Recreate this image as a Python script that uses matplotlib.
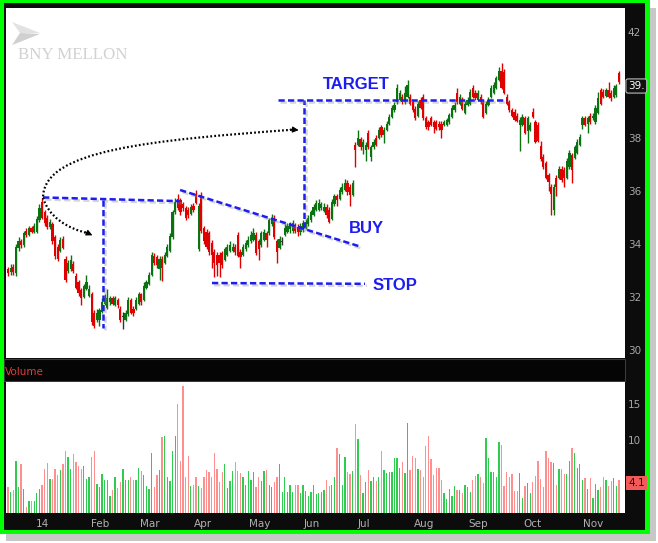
import numpy as np
import matplotlib
matplotlib.use("Agg")
import matplotlib.pyplot as plt
import matplotlib.patheffects as pe
from matplotlib.patches import Rectangle, Polygon, PathPatch
from matplotlib.path import Path

# Daily candles, Dec 2013 - Nov 2014
open_ = [33.05, 32.95, 33.15, 32.90, 33.85, 34.10, 33.95, 34.50, 34.35, 34.60,
         34.45, 34.45, 34.90, 35.60, 35.20, 35.00, 34.65, 34.75, 34.25, 33.90,
         33.75, 34.20, 33.45, 33.00, 33.05, 33.25, 32.80, 32.55, 32.25, 32.00,
         32.30, 32.05, 32.10, 31.40, 31.15, 31.15, 31.45, 31.75, 31.60, 31.80,
         31.95, 31.70, 31.90, 31.55, 31.25, 31.15, 31.35, 31.90, 31.55, 31.55,
         31.75, 32.10, 31.90, 32.35, 32.50, 32.85, 33.55, 33.50, 33.05, 33.45,
         33.30, 33.55, 33.75, 34.25, 35.20, 35.70, 35.65, 35.50, 35.35, 35.30,
         35.15, 35.45, 35.90, 33.80, 35.85, 34.60, 34.45, 34.40, 34.05, 33.70,
         33.60, 33.60, 33.65, 33.40, 33.60, 33.75, 33.75, 33.90, 34.35, 33.70,
         33.60, 33.80, 33.95, 34.10, 34.15, 34.35, 34.10, 33.95, 34.15, 34.40,
         34.40, 34.75, 35.00, 34.10, 33.85, 34.08, 34.35, 34.45, 34.55, 34.50,
         34.70, 34.65, 34.45, 34.55, 34.65, 34.75, 34.90, 35.10, 35.30, 35.30,
         35.35, 35.25, 35.40, 35.30, 34.95, 35.50, 35.80, 35.70, 35.95, 36.05,
         36.30, 36.15, 35.85,
         37.75, 37.75, 37.95, 37.65, 37.55, 38.20, 37.30, 37.65, 38.00, 38.00,
         38.40, 38.10, 38.30, 38.55, 38.80, 39.05, 39.35, 39.45, 39.55, 39.35,
         39.55, 39.55, 39.35, 39.10, 38.85, 39.45, 39.55, 38.75, 38.60, 38.75,
         38.60, 38.60, 38.55, 38.55, 38.50, 38.50, 38.60, 38.80, 39.05, 39.70,
         39.30, 39.45, 38.95, 39.25, 39.30, 39.90, 39.70, 39.45, 39.55, 39.35,
         38.95, 39.25, 39.55, 39.70, 39.90, 40.20, 40.55, 40.50, 39.55, 39.35,
         39.05, 39.00, 38.85, 38.50, 38.50, 38.75, 38.25, 38.30, 39.00, 38.60,
         38.50, 37.70, 37.30, 37.05, 36.60, 36.15, 35.30, 36.50, 36.50, 36.85,
         36.80, 36.50, 36.90, 37.35, 37.25, 37.45, 37.75, 38.50, 38.75, 38.55,
         38.85, 38.75, 38.60, 38.95, 39.80, 39.75, 39.60, 39.80, 39.70, 39.55,
         39.62, 40.45]
close = [32.90, 33.10, 32.95, 33.90, 34.10, 33.95, 34.40, 34.35, 34.60, 34.45,
         34.70, 34.95, 35.35, 35.00, 34.80, 34.65, 34.85, 34.10, 33.55, 33.45,
         34.15, 33.85, 32.65, 33.30, 33.40, 33.00, 32.35, 32.15, 31.95, 32.40,
         32.55, 32.30, 31.05, 30.90, 31.40, 31.50, 31.80, 31.95, 31.95, 31.95,
         31.75, 31.95, 31.70, 31.15, 31.25, 31.40, 31.90, 31.40, 31.40, 31.90,
         32.10, 31.80, 32.40, 32.55, 32.85, 33.60, 33.30, 33.20, 33.45, 33.10,
         33.60, 33.90, 34.30, 35.20, 35.60, 35.35, 35.20, 35.35, 35.00, 35.10,
         35.40, 35.30, 35.55, 35.45, 34.50, 34.10, 33.90, 33.70, 33.60, 33.30,
         33.20, 33.30, 33.20, 33.80, 33.90, 33.95, 33.90, 33.70, 33.55, 33.50,
         33.90, 34.05, 34.15, 34.35, 34.40, 33.65, 33.80, 34.40, 34.45, 34.15,
         34.90, 35.00, 34.25, 33.70, 34.20, 34.08, 34.60, 34.70, 34.72, 34.80,
         34.50, 34.45, 34.70, 34.80, 34.85, 35.00, 35.20, 35.40, 35.55, 35.55,
         35.50, 35.40, 35.10, 34.85, 35.60, 35.80, 35.65, 36.05, 36.15, 36.30,
         35.95, 35.85, 36.30,
         37.55, 38.00, 37.65, 37.85, 37.75, 37.65, 37.65, 37.85, 37.75, 38.30,
         38.10, 38.30, 38.55, 38.80, 39.15, 39.25, 39.90, 39.70, 39.35, 39.70,
         40.00, 39.30, 39.05, 38.75, 39.30, 39.15, 38.75, 38.40, 38.40, 38.50,
         38.40, 38.35, 38.40, 38.30, 38.60, 38.68, 38.87, 39.15, 39.25, 39.35,
         39.55, 39.10, 39.30, 39.45, 39.75, 39.55, 39.50, 39.70, 39.35, 38.80,
         39.30, 39.45, 39.90, 40.00, 40.25, 40.55, 39.90, 39.70, 39.30, 39.05,
         38.85, 38.70, 38.65, 38.68, 38.80, 38.20, 38.75, 38.50, 38.80, 37.85,
         37.90, 37.20, 36.90, 36.50, 36.35, 35.90, 36.15, 36.15, 36.85, 36.40,
         36.50, 37.15, 37.45, 36.80, 37.65, 37.85, 38.05, 38.75, 38.50, 38.75,
         38.60, 38.85, 39.15, 39.50, 39.30, 39.55, 39.80, 39.55, 39.50, 39.90,
         39.95, 40.10]
high = [33.15, 33.25, 33.25, 34.00, 34.25, 34.20, 34.50, 34.60, 34.70, 34.70,
        34.80, 35.05, 35.50, 35.75, 35.30, 35.10, 34.95, 34.85, 34.35, 34.00,
        34.25, 34.30, 33.55, 33.40, 33.60, 33.35, 32.90, 32.65, 32.35, 32.50,
        32.85, 32.45, 32.20, 31.50, 31.55, 31.60, 31.95, 32.10, 32.30, 32.05,
        32.05, 32.05, 31.95, 31.65, 31.45, 31.50, 32.00, 31.95, 31.65, 32.00,
        32.20, 32.15, 32.55, 32.65, 32.95, 33.70, 33.65, 33.60, 33.55, 33.55,
        33.70, 34.00, 34.40, 35.30, 35.75, 35.90, 35.75, 35.60, 35.45, 35.40,
        35.50, 35.55, 36.05, 35.55, 35.95, 34.70, 34.55, 34.50, 34.15, 33.80,
        33.70, 33.70, 33.75, 33.90, 34.00, 34.10, 34.05, 34.00, 34.45, 33.80,
        34.00, 34.15, 34.30, 34.50, 34.60, 34.45, 34.20, 34.50, 34.55, 34.50,
        35.00, 35.15, 35.10, 34.20, 34.30, 34.25, 34.75, 34.80, 34.85, 34.90,
        34.80, 34.75, 34.80, 34.90, 34.95, 35.10, 35.30, 35.50, 35.65, 35.70,
        35.60, 35.55, 35.50, 35.40, 35.70, 35.90, 35.90, 36.15, 36.30, 36.45,
        36.40, 36.25, 36.40,
        37.85, 38.30, 38.05, 37.95, 37.85, 38.30, 37.75, 37.95, 38.10, 38.40,
        38.50, 38.40, 38.65, 38.90, 39.25, 39.35, 40.05, 39.80, 39.65, 39.95,
        40.20, 39.65, 39.45, 39.20, 39.40, 39.55, 39.65, 38.85, 38.70, 38.85,
        38.70, 38.70, 38.65, 38.65, 38.70, 38.75, 38.95, 39.25, 39.35, 39.90,
        39.65, 39.55, 39.40, 39.55, 39.85, 40.00, 39.80, 39.80, 39.65, 39.45,
        39.40, 39.55, 40.00, 40.10, 40.35, 40.70, 40.85, 40.60, 39.65, 39.45,
        39.15, 39.10, 38.95, 38.80, 38.90, 38.85, 38.85, 38.60, 39.15, 38.70,
        38.60, 37.90, 37.40, 37.15, 36.70, 36.25, 36.25, 36.60, 36.95, 36.95,
        36.90, 37.25, 37.55, 37.45, 37.75, 37.95, 38.15, 38.85, 38.85, 38.85,
        38.95, 38.95, 39.25, 39.75, 39.90, 39.85, 39.90, 40.10, 39.80, 40.00,
        40.05, 40.55]
low = [32.80, 32.85, 32.85, 32.80, 33.75, 33.85, 33.90, 34.25, 34.30, 34.40,
       34.40, 34.40, 34.85, 34.95, 34.70, 34.55, 34.55, 34.00, 33.45, 33.35,
       33.70, 33.80, 32.55, 32.90, 33.00, 32.90, 32.30, 32.05, 31.70, 31.95,
       32.25, 32.00, 30.95, 30.85, 31.05, 30.90, 31.40, 31.70, 31.55, 31.70,
       31.70, 31.65, 31.60, 31.05, 30.80, 31.10, 31.30, 31.35, 31.30, 31.50,
       31.70, 31.70, 31.85, 32.30, 32.45, 32.80, 33.20, 33.10, 32.65, 32.60,
       33.25, 33.50, 33.70, 34.20, 35.15, 35.30, 35.10, 35.25, 34.90, 35.00,
       35.10, 35.20, 35.50, 33.75, 34.40, 34.00, 33.80, 33.60, 33.10, 32.75,
       32.80, 32.75, 33.10, 33.35, 33.55, 33.70, 33.70, 33.60, 33.50, 33.10,
       33.55, 33.75, 33.90, 34.05, 34.10, 33.60, 33.40, 33.90, 34.10, 33.90,
       34.35, 34.70, 34.20, 33.30, 33.80, 33.95, 34.30, 34.40, 34.40, 34.40,
       34.40, 34.30, 34.35, 34.45, 34.55, 34.70, 34.85, 35.05, 35.25, 35.25,
       35.30, 35.20, 35.00, 34.80, 34.90, 35.45, 35.45, 35.65, 35.90, 36.00,
       35.85, 35.45, 35.80,
       36.90, 37.70, 37.55, 37.40, 37.15, 37.60, 37.15, 37.60, 37.70, 37.95,
       38.05, 37.80, 38.25, 38.50, 38.75, 39.00, 39.30, 39.40, 39.30, 39.30,
       39.50, 39.25, 39.00, 38.70, 38.80, 39.10, 38.70, 38.35, 38.30, 38.45,
       38.20, 38.30, 38.30, 38.00, 38.45, 38.45, 38.55, 38.75, 39.00, 39.30,
       39.25, 39.05, 38.90, 39.20, 39.25, 39.50, 39.45, 39.40, 39.30, 38.75,
       38.90, 39.20, 39.50, 39.65, 39.85, 40.15, 39.85, 39.65, 39.25, 39.00,
       38.80, 38.65, 38.60, 37.50, 38.45, 38.15, 37.80, 38.25, 38.75, 37.80,
       37.85, 37.15, 36.85, 36.45, 36.00, 35.10, 35.10, 35.80, 36.45, 36.35,
       36.15, 36.45, 36.85, 36.30, 37.20, 37.40, 37.70, 38.35, 38.45, 38.20,
       38.55, 38.70, 38.55, 38.90, 39.25, 39.50, 39.55, 39.50, 39.40, 39.50,
       39.55, 40.05]

# Volume in millions
volume = [3.6, 2.9, 3.1, 7.2, 3.6, 6.8, 3.3, 0.8, 1.7, 1.7,
          1.7, 2.7, 3.3, 3.8, 6.1, 6.9, 4.7, 4.7, 6.0,
          5.2, 5.9, 6.8, 8.5, 7.7, 6.0, 8.1, 7.0, 6.4, 6.0,
          6.4, 4.7, 5.0, 7.7, 8.5, 4.0, 3.6, 5.3, 4.6, 4.6,
          2.4, 3.2, 4.9, 3.4, 4.2, 6.1, 4.6, 4.5, 5.0, 4.5,
          4.5, 6.2, 5.8, 5.2, 3.7, 3.3, 8.2, 3.6, 5.2, 5.9,
          10.4, 10.6, 4.9, 4.4, 8.5, 10.6, 15.0, 7.2, 17.5, 5.0,
          7.8, 3.7, 3.8, 5.0, 3.7, 3.4, 5.0, 5.9, 5.6, 4.9,
          8.2, 6.0, 4.2, 5.6, 6.8, 3.4, 4.4, 5.8, 7.0, 5.8,
          5.5, 4.9, 3.9, 5.8, 4.5, 5.6, 3.6, 4.9, 4.4, 5.8,
          5.9, 3.8, 3.6, 4.2, 4.9, 6.8, 2.9, 4.9, 2.9, 3.9,
          2.9, 3.9, 3.8, 2.8, 3.8, 3.0, 2.4, 2.9, 3.8, 2.6,
          2.7, 2.9, 3.1, 4.6, 3.7,
          3.8, 5.0, 8.9, 8.1, 3.8, 7.7, 5.6, 5.3, 5.8,
          12.2, 10.1, 5.2, 2.7, 4.3, 5.9, 4.4, 5.0, 4.4, 5.0,
          8.5, 5.9, 5.5, 5.7, 5.7, 7.6, 7.6, 6.2, 7.0, 5.5,
          12.4, 5.9, 7.9, 7.6, 6.0, 5.9, 4.9, 9.2, 10.6,
          7.4, 5.2, 6.2, 6.2, 4.5, 2.7, 1.9, 3.3, 2.3, 3.7,
          3.2, 3.2, 2.7, 3.8, 3.6, 2.9, 4.5, 5.1, 5.4, 5.0,
          4.1, 10.3, 7.5, 5.7, 5.7, 5.0, 9.8, 9.3, 3.7, 5.6,
          4.9, 5.3, 3.0, 3.0, 5.5, 2.0, 3.7, 4.1, 2.7, 4.2,
          5.1, 7.2, 4.7, 3.6, 8.5, 7.5, 7.0, 6.9, 3.9, 6.0,
          6.0, 5.4, 5.3, 7.2, 9.0, 8.2, 6.2, 6.8, 4.5, 4.8,
          3.3, 4.8, 2.1, 4.0, 3.2, 3.6, 4.9, 4.6, 3.7, 4.4,
          4.8, 3.7, 4.5]

month_pos = [13.0, 35.2, 54.4, 74.7, 96.5, 116.4, 136.3, 159.3, 180.0, 200.7, 224.0]
month_lbl = ["14", "Feb", "Mar", "Apr", "May", "Jun", "Jul", "Aug", "Sep", "Oct", "Nov"]
price_ticks = [30, 32, 34, 36, 38, 42]
vol_ticks = [10, 15]

W, H = 658, 543
fig = plt.figure(figsize=(W / 100, H / 100), dpi=100, facecolor="white")


def fbox(x0, y0, x1, y1, **kw):
    # rectangle given in figure pixels, origin top-left
    return Rectangle((x0 / W, 1 - y1 / H), (x1 - x0) / W, (y1 - y0) / H,
                     transform=fig.transFigure, **kw)


fig.patches.append(fbox(6, 8, 656, 541, facecolor="#c8c8c8", edgecolor="none", zorder=-3))
fig.patches.append(fbox(0, 0, 650, 534, facecolor="#00ff00", edgecolor="none", zorder=-2))
fig.patches.append(fbox(4, 3, 645, 530, facecolor="#0c0c0c", edgecolor="none", zorder=-1))
fig.patches.append(fbox(4, 359, 625, 381, facecolor="#050505", edgecolor="#3a3a3a", lw=0.8, zorder=-1))

ax = fig.add_axes([6 / W, 1 - 358 / H, 619 / W, 350 / H])
axv = fig.add_axes([6 / W, 1 - 513 / H, 619 / W, 131 / H])

n = len(close)
x = np.arange(n)
o = np.array(open_)
c = np.array(close)
up = c > o
doji = np.abs(c - o) < 0.01
cols = np.where(doji, "#333333", np.where(up, "#0a7210", "#e00000"))

ax.vlines(x, low, high, colors=cols, lw=1.0, zorder=2)
ax.bar(x, np.maximum(np.abs(c - o), 0.03), bottom=np.minimum(o, c), width=0.85,
       color=cols, edgecolor="none", zorder=3)

ax.set_xlim(-0.8, 236.3)
ax.set_ylim(29.70, 42.91)
ax.set_facecolor("white")
for s in ax.spines.values():
    s.set_visible(False)
ax.set_xticks([])
ax.yaxis.tick_right()
ax.set_yticks(price_ticks)
ax.set_yticklabels([str(t) for t in price_ticks])
ax.tick_params(axis="y", length=0, pad=2, labelsize=7.5, labelcolor="#a6a6a6")

# volume
nv = len(volume)
xv = np.arange(nv)
vcols = ["#2fcc50" if (i < n and close[i] >= open_[i]) else "#ff8f8f" for i in range(nv)]
axv.bar(xv, volume, width=0.5, color=vcols, edgecolor="none")
axv.set_xlim(-0.8, 236.3)
axv.set_ylim(0, 18.0)
axv.set_facecolor("white")
for s in axv.spines.values():
    s.set_visible(False)
axv.yaxis.tick_right()
axv.set_yticks(vol_ticks)
axv.set_yticklabels([str(t) for t in vol_ticks])
axv.tick_params(axis="y", length=0, pad=2, labelsize=7.5, labelcolor="#a6a6a6")
axv.set_xticks(month_pos)
axv.set_xticklabels(month_lbl)
axv.tick_params(axis="x", length=0, pad=4, labelsize=7.5, labelcolor="#b0b0b0")

fig.text(5 / W, 1 - 372 / H, "Volume", color="#e03c3c", fontsize=7.5, va="center", ha="left")
fig.text(628 / W, 1 - 86 / H, "39.", color="white", fontsize=7.5, va="center", ha="left",
         bbox=dict(boxstyle="round,pad=0.2", fc="#111111", ec="#bbbbbb", lw=0.8))
fig.text(628 / W, 1 - 483 / H, "4.1", color="#3a0000", fontsize=7.5, va="center", ha="left",
         bbox=dict(boxstyle="square,pad=0.2", fc="#f05a5a", ec="none"))

# watermark
ax.text(0.019, 0.866, "BNY MELLON", transform=ax.transAxes, fontsize=12.2,
        family="Liberation Serif", color="#d2d2d2", ha="left", va="center")
ax.add_patch(Polygon([(0.0097, 0.96), (0.055, 0.9286), (0.0226, 0.9286)],
                     closed=True, transform=ax.transAxes, fc="#e2e2e2", ec="none"))
ax.add_patch(Polygon([(0.0226, 0.9286), (0.055, 0.926), (0.0097, 0.894)],
                     closed=True, transform=ax.transAxes, fc="#d0d0d0", ec="none"))

# annotations
blue = "#1d1df0"
shadow = [pe.SimpleLineShadow(offset=(1.5, -1.5), shadow_color="#888888", alpha=0.35), pe.Normal()]
dash_kw = dict(color=blue, lw=1.8, dashes=(2.5, 1.3), path_effects=shadow, zorder=5)
ax.plot([13.4, 65.9], [35.76, 35.62], **dash_kw)
ax.plot([36.4, 36.4], [35.66, 30.83], **dash_kw)
ax.plot([65.9, 134.4], [36.04, 33.92], **dash_kw)
ax.plot([78.1, 136.7], [32.53, 32.50], **dash_kw)
ax.plot([113.3, 113.3], [34.60, 39.43], **dash_kw)
ax.plot([103.4, 191.1], [39.43, 39.43], **dash_kw)

txt_kw = dict(color=blue, fontsize=12, fontweight="bold", family="Liberation Sans",
              ha="center", va="center", zorder=6)
ax.text(133.3, 40.04, "TARGET", **txt_kw)
ax.text(137.1, 34.60, "BUY", **txt_kw)
ax.text(148.2, 32.45, "STOP", **txt_kw)

dot_kw = dict(fc="none", ec="black", lw=1.6, linestyle=(0, (0.8, 1.0)), zorder=6)
curve1 = Path([(13.4, 35.80), (14.1, 37.55), (54.4, 37.92), (109.5, 38.32)],
              [Path.MOVETO, Path.CURVE4, Path.CURVE4, Path.CURVE4])
curve2 = Path([(13.4, 35.75), (15.3, 35.09), (21.8, 34.6), (31.0, 34.40)],
              [Path.MOVETO, Path.CURVE4, Path.CURVE4, Path.CURVE4])
ax.add_patch(PathPatch(curve1, **dot_kw))
ax.add_patch(PathPatch(curve2, **dot_kw))
head = dict(arrowstyle="-|>", color="black", lw=0.8, mutation_scale=9, shrinkA=0, shrinkB=0)
ax.annotate("", xy=(111.3, 38.30), xytext=(108.0, 38.33), arrowprops=head, zorder=7)
ax.annotate("", xy=(32.3, 34.33), xytext=(29.5, 34.46), arrowprops=head, zorder=7)

fig.savefig("out.png", dpi=100, facecolor="white")
